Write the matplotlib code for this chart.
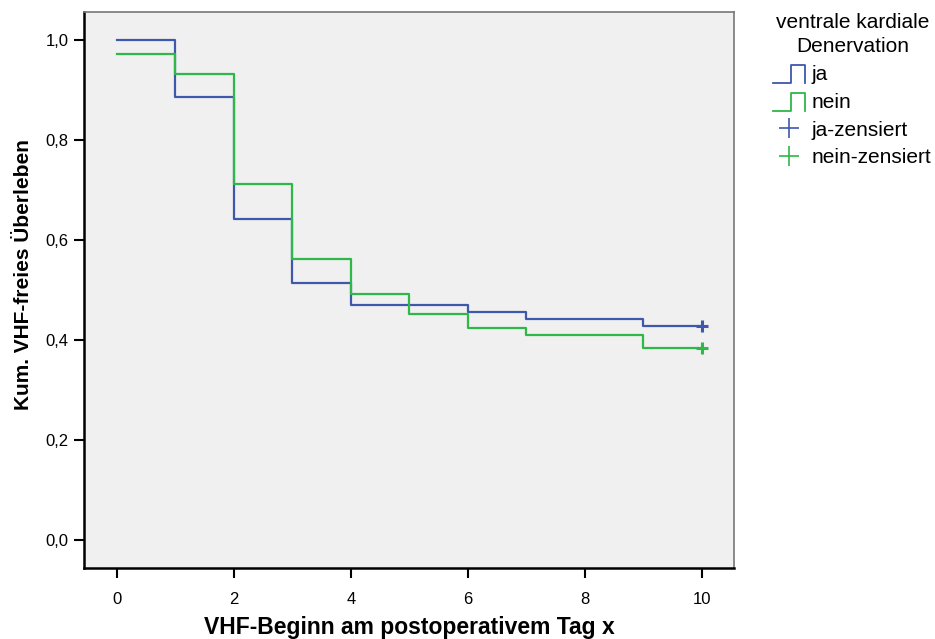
import numpy as np
import matplotlib.pyplot as plt
from matplotlib.lines import Line2D
from matplotlib.legend_handler import HandlerBase
from matplotlib.ticker import FuncFormatter

plt.rcParams['font.family'] = ['Liberation Sans', 'DejaVu Sans']

# Kaplan-Meier steps (value holds from day[i] to day[i+1])
days_ja = [0, 1, 2, 3, 4, 6, 7, 9, 10]
surv_ja = [1.000, 0.886, 0.643, 0.514, 0.471, 0.457, 0.443, 0.429, 0.429]
days_nein = [0, 1, 2, 3, 4, 5, 6, 7, 9, 10]
surv_nein = [0.973, 0.932, 0.712, 0.562, 0.493, 0.452, 0.425, 0.411, 0.384, 0.384]
cens_ja = ([10], [0.429])
cens_nein = ([10], [0.384])

blue = '#3e58ac'
green = '#2eb848'


class StepHandler(HandlerBase):
    def create_artists(self, legend, orig, xd, yd, w, h, fontsize, trans):
        x0, x1 = -xd, -xd + w
        xm = x0 + 0.55 * w
        yb, yt = -yd - 0.2 * h, -yd + 1.05 * h
        ln = Line2D([x0, xm, xm, x1, x1], [yb, yb, yt, yt, yb],
                    color=orig.get_color(), lw=1.3, transform=trans)
        return [ln]


fig = plt.figure(figsize=(9.35, 6.39), dpi=100)
ax = fig.add_axes([84 / 935, 1 - 568 / 639, 650 / 935, 556 / 639], facecolor='#f0f0f0')

ax.step(days_ja, surv_ja, where='post', color=blue, lw=1.6)
ax.step(days_nein, surv_nein, where='post', color=green, lw=1.6)
ax.plot(*cens_ja, ls='none', marker='+', ms=9, mew=2.2, color=blue)
ax.plot(*cens_nein, ls='none', marker='+', ms=9, mew=2.2, color=green)

ax.set_xlim(-0.564, 10.547)
ax.set_ylim(-0.056, 1.056)
ax.set_xticks([0, 2, 4, 6, 8, 10])
ax.set_yticks([0, 0.2, 0.4, 0.6, 0.8, 1.0])
ax.yaxis.set_major_formatter(FuncFormatter(lambda v, p: f'{v:.1f}'.replace('.', ',')))
ax.tick_params(labelsize=12, length=7, width=1.5)
ax.tick_params(axis='x', pad=10)
ax.tick_params(axis='y', pad=4)

for s in ['left', 'bottom']:
    ax.spines[s].set_linewidth(1.8)
    ax.spines[s].set_color('black')
for s in ['right', 'top']:
    ax.spines[s].set_linewidth(1.2)
    ax.spines[s].set_color('#777777')

ax.set_xlabel('VHF-Beginn am postoperativem Tag x', fontsize=16.5, fontweight='bold', labelpad=7)
ax.set_ylabel('Kum. VHF-freies Überleben', fontsize=15, fontweight='bold')
ax.yaxis.set_label_coords(-0.078, 0.527)

h_ja = Line2D([], [], color=blue)
h_nein = Line2D([], [], color=green)
h_cja = Line2D([], [], ls='none', marker='+', ms=14, mew=1.2, color=blue)
h_cnein = Line2D([], [], ls='none', marker='+', ms=14, mew=1.2, color=green)
leg = fig.legend([h_ja, h_nein, h_cja, h_cnein], ['ja', 'nein', 'ja-zensiert', 'nein-zensiert'],
                 handler_map={h_ja: StepHandler(), h_nein: StepHandler()},
                 title='ventrale kardiale\nDenervation', loc='upper left',
                 bbox_to_anchor=(769 / 935, 1 - 9 / 639), frameon=False, fontsize=15,
                 title_fontsize=15, handlelength=1.55, handletextpad=0.3,
                 labelspacing=0.42, borderaxespad=0, borderpad=0.2)
leg.get_title().set_multialignment('center')
leg.get_title().set_linespacing(1.35)
leg._legend_handle_box.sep = 6

fig.savefig('out.png', dpi=100)
